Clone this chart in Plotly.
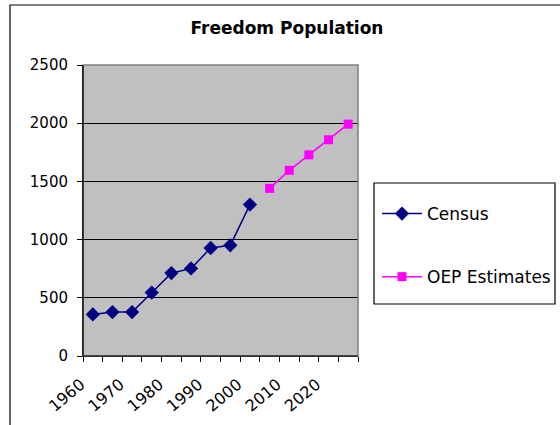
import plotly.graph_objects as go

census_years = [1960, 1965, 1970, 1975, 1980, 1985, 1990, 1995, 2000]
census_values = [357, 377, 377, 545, 712, 752, 928, 951, 1301]
oep_years = [2005, 2010, 2015, 2020, 2025]
oep_values = [1440, 1595, 1728, 1858, 1992]
x_tick_labels = ["1960", "1970", "1980", "1990", "2000", "2010", "2020"]
x_tick_vals = [1960, 1970, 1980, 1990, 2000, 2010, 2020]

W, H = 560, 425
L, R, T, B = 83, 358, 65, 356
pw, ph = R - L, B - T

def px_x(x):
    return (x - L) / pw

def px_y(y):
    return (B - y) / ph

fig = go.Figure()
fig.add_trace(go.Scatter(
    x=census_years, y=census_values, name="Census", mode="lines+markers",
    line=dict(color="#000080", width=1.5),
    marker=dict(symbol="diamond", size=11, color="#000080"),
    legendgroup="a",
))
fig.add_trace(go.Scatter(
    x=oep_years, y=oep_values, name="OEP Estimates", mode="lines+markers",
    line=dict(color="#FF00FF", width=1.5),
    marker=dict(symbol="square", size=9, color="#FF00FF"),
    legendgroup="b",
))

font = "DejaVu Sans, Verdana, sans-serif"

fig.update_layout(
    width=W, height=H,
    margin=dict(l=L, r=W - R, t=T, b=H - B, autoexpand=False),
    paper_bgcolor="white",
    plot_bgcolor="#C0C0C0",
    title=dict(text="<b>Freedom Population</b>", x=287 / W, xanchor="center",
               y=1 - 28 / H, yanchor="middle", xref="container", yref="container",
               font=dict(family=font, size=17, color="black")),
    showlegend=True,
    legend=dict(x=px_x(377), y=px_y(196), xanchor="left", yanchor="top",
                font=dict(family=font, size=17, color="black"),
                bgcolor="rgba(0,0,0,0)", borderwidth=0,
                tracegroupgap=38, itemwidth=40),
    xaxis=dict(range=[1957.5, 2027.5], tickvals=x_tick_vals, ticktext=x_tick_labels,
               tickangle=-40, ticks="", showgrid=False, zeroline=False,
               showline=True, linecolor="black", linewidth=1,
               ticklabelshift=-12, ticklabelstandoff=12,
               tickfont=dict(family=font, size=16, color="black"),
               minor=dict(tick0=1957.5, dtick=5, ticks="outside", ticklen=5,
                          tickcolor="black", showgrid=False)),
    yaxis=dict(range=[0, 2500], dtick=500, ticks="outside", ticklen=5,
               tickcolor="black", showgrid=True, gridcolor="black", gridwidth=1,
               zeroline=False, showline=True, linecolor="black", linewidth=1,
               ticklabelstandoff=6,
               tickfont=dict(family=font, size=15, color="black")),
    shapes=[
        dict(type="rect", xref="paper", yref="paper", x0=0, x1=1, y0=0, y1=1,
             line=dict(color="#808080", width=1.5), layer="above"),
        dict(type="line", xref="paper", yref="paper", x0=0, x1=0, y0=0, y1=1,
             line=dict(color="black", width=1.2)),
        dict(type="line", xref="paper", yref="paper", x0=0, x1=1, y0=0, y1=0,
             line=dict(color="black", width=1.2)),
        dict(type="rect", xref="paper", yref="paper",
             x0=px_x(374), x1=px_x(555), y0=px_y(304), y1=px_y(183),
             line=dict(color="black", width=1.2), fillcolor="rgba(0,0,0,0)"),
        dict(type="rect", xref="paper", yref="paper",
             x0=px_x(10), x1=px_x(600), y0=px_y(460), y1=px_y(5),
             line=dict(color="black", width=1.2), fillcolor="rgba(0,0,0,0)"),
    ],
)

fig.write_html("out.html", config={"displayModeBar": False},
               post_script="document.body.style.margin='0';document.body.style.overflow='hidden';")
